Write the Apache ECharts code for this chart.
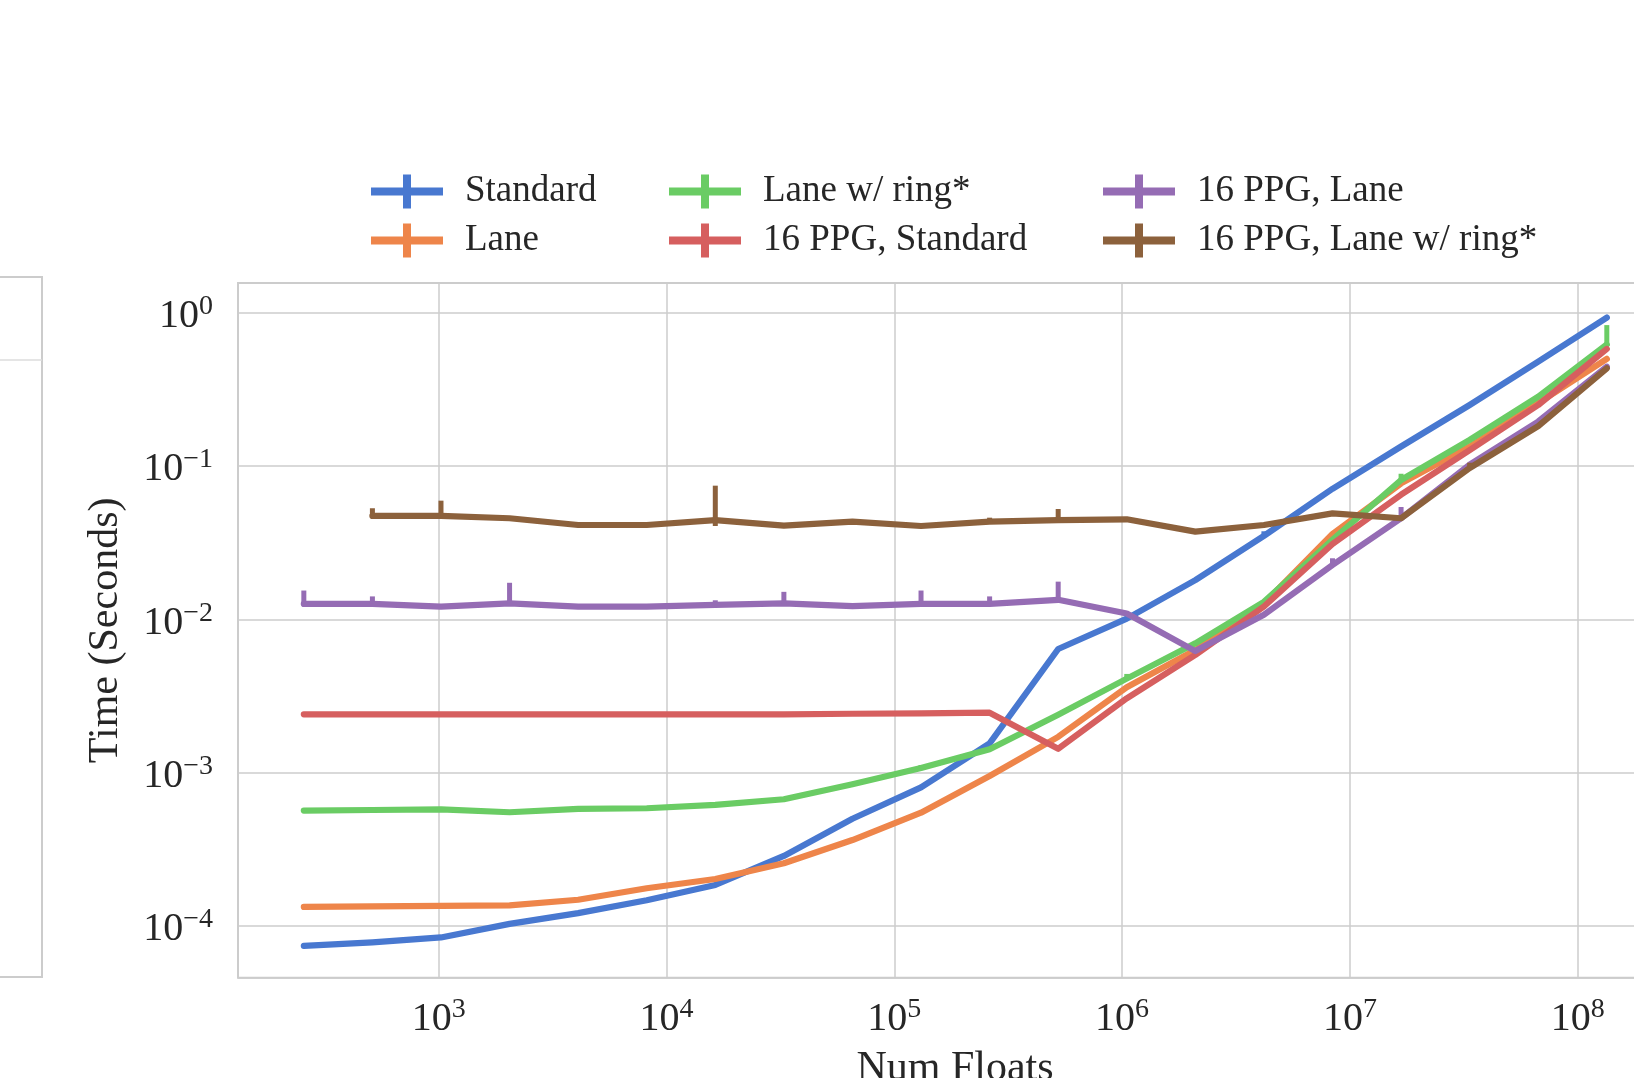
<!DOCTYPE html>
<html>
<head>
<meta charset="utf-8">
<script src="https://cdn.jsdelivr.net/npm/echarts@6/dist/echarts.min.js"></script>
<style>
html,body{margin:0;padding:0;background:#fff;overflow:hidden;}
#chart{width:1634px;height:1078px;}
</style>
</head>
<body>
<div id="chart"></div>
<script>
// ---- data (x = 2^8 ... 2^27) ----
const numFloats = [256, 512, 1024, 2048, 4096, 8192, 16384, 32768, 65536, 131072, 262144, 524288,
  1048576, 2097152, 4194304, 8388608, 16777216, 33554432, 67108864, 134217728];

const seriesNames = ['Standard', 'Lane', 'Lane w/ ring*', '16 PPG, Standard', '16 PPG, Lane', '16 PPG, Lane w/ ring*'];
const seriesColors = ['#4878d0', '#ee854a', '#6acc64', '#d65f5f', '#956cb4', '#8c613c'];

const standard = [7.4e-5, 7.8e-5, 8.4e-5, 1.03e-4, 1.21e-4, 1.47e-4, 1.85e-4, 2.86e-4, 5.0e-4, 8.0e-4,
  1.55e-3, 6.4e-3, 1.01e-2, 1.8e-2, 3.5e-2, 7.1e-2, 0.134, 0.25, 0.48, 0.93];
const lane = [1.33e-4, 1.34e-4, 1.35e-4, 1.36e-4, 1.48e-4, 1.76e-4, 2.02e-4, 2.56e-4, 3.63e-4, 5.47e-4,
  9.5e-4, 1.71e-3, 3.6e-3, 6.3e-3, 1.27e-2, 3.6e-2, 7.7e-2, 0.134, 0.257, 0.50];
const laneRing = [5.65e-4, 5.7e-4, 5.75e-4, 5.51e-4, 5.79e-4, 5.85e-4, 6.15e-4, 6.7e-4, 8.4e-4, 1.07e-3,
  1.42e-3, 2.38e-3, 4.1e-3, 6.97e-3, 1.3e-2, 3.3e-2, 8.1e-2, 0.148, 0.283, 0.62];
const ppgStandard = [2.40e-3, 2.40e-3, 2.40e-3, 2.40e-3, 2.40e-3, 2.40e-3, 2.40e-3, 2.40e-3, 2.42e-3, 2.43e-3,
  2.46e-3, 1.43e-3, 3.05e-3, 5.85e-3, 1.21e-2, 3.1e-2, 6.5e-2, 0.127, 0.25, 0.58];
const ppgLane = [1.26e-2, 1.26e-2, 1.21e-2, 1.27e-2, 1.21e-2, 1.21e-2, 1.24e-2, 1.27e-2, 1.22e-2, 1.26e-2,
  1.26e-2, 1.34e-2, 1.09e-2, 6.2e-3, 1.07e-2, 2.26e-2, 4.56e-2, 0.102, 0.195, 0.444];
const ppgLaneRing = [null, 4.72e-2, 4.72e-2, 4.56e-2, 4.12e-2, 4.12e-2, 4.44e-2, 4.08e-2, 4.33e-2, 4.06e-2,
  4.33e-2, 4.44e-2, 4.49e-2, 3.73e-2, 4.12e-2, 4.91e-2, 4.56e-2, 9.7e-2, 0.182, 0.434];

// error bar extents (null = not visible)
const standardErrHigh = [null, null, null, null, null, null, null, null, null, null,
  null, null, null, null, 3.75e-2, null, null, null, null, null];
const laneRingErrHigh = [null, null, null, null, null, null, null, null, null, 1.12e-3,
  null, null, 4.4e-3, null, null, null, 8.9e-2, null, null, 0.83];
const ppgLaneErrHigh = [1.54e-2, 1.41e-2, null, 1.73e-2, null, null, 1.33e-2, 1.51e-2, null, 1.54e-2,
  1.41e-2, 1.76e-2, null, null, null, 2.5e-2, 5.4e-2, null, null, null];
const ppgLaneRingErrHigh = [null, 5.3e-2, 5.94e-2, null, 4.3e-2, null, 7.44e-2, null, null, null,
  4.6e-2, 5.24e-2, null, null, null, null, null, 0.105, null, null];
const ppgLaneRingErrLow = [null, null, null, null, null, null, 4.06e-2, null, null, null,
  null, null, null, null, null, null, null, null, null, null];

const seriesValues = [standard, lane, laneRing, ppgStandard, ppgLane, ppgLaneRing];
const seriesErrHigh = [standardErrHigh, null, laneRingErrHigh, null, ppgLaneErrHigh, ppgLaneRingErrHigh];
const seriesErrLow = [null, null, null, null, null, ppgLaneRingErrLow];

// ---- styling ----
const FONT = 'Liberation Serif';
const TXT = '#262626';
const GRID = '#cccccc';

function sciLabel(v) {
  const e = Math.log10(v);
  const r = Math.round(e);
  if (Math.abs(e - r) > 1e-6) return '';
  const exp = r < 0 ? '\u2212' + (-r) : String(r);
  return '{b|10}{s|' + exp + '}';
}
const richLab = {
  b: { fontFamily: FONT, fontSize: 40, lineHeight: 40, padding: [8, 0, 0, 0], color: TXT },
  s: { fontFamily: FONT, fontSize: 28, lineHeight: 28, verticalAlign: 'top', color: TXT }
};

const handle = 'path://M0,13H72V21H0Z M32,0H40V34H32Z';

function legendCol(names, left) {
  return {
    data: names, left: left, top: 168, orient: 'vertical',
    itemWidth: 72, itemHeight: 34, itemGap: 12, icon: handle,
    itemStyle: { borderWidth: 0 },
    selectedMode: false,
    textStyle: { fontFamily: FONT, fontSize: 37, lineHeight: 34, color: TXT, padding: [0, 0, 0, 17] }
  };
}

const series = [];
seriesNames.forEach((name, i) => {
  series.push({
    name: name, type: 'line',
    data: numFloats.map((x, j) => [x, seriesValues[i][j]]),
    showSymbol: false, symbol: 'none', connectNulls: false,
    color: seriesColors[i],
    lineStyle: { width: 6.2, color: seriesColors[i], cap: 'round', join: 'round' },
    emphasis: { disabled: true },
    z: 2 + i * 2
  });
  const hi = seriesErrHigh[i], lo = seriesErrLow[i];
  if (hi || lo) {
    const errData = [];
    numFloats.forEach((x, j) => {
      const v = seriesValues[i][j];
      const h = hi && hi[j] != null ? hi[j] : null;
      const l = lo && lo[j] != null ? lo[j] : null;
      if (v == null || (h == null && l == null)) return;
      errData.push([x, l != null ? l : v, h != null ? h : v]);
    });
    series.push({
      name: name, type: 'custom',
      data: errData,
      encode: { x: 0, y: [1, 2] },
      z: 3 + i * 2,
      silent: true,
      renderItem: (params, api) => {
        const p1 = api.coord([api.value(0), api.value(1)]);
        const p2 = api.coord([api.value(0), api.value(2)]);
        return {
          type: 'line',
          shape: { x1: p1[0], y1: p1[1], x2: p2[0], y2: p2[1] },
          style: { stroke: seriesColors[i], lineWidth: 5 }
        };
      }
    });
  }
});

const chart = echarts.init(document.getElementById('chart'), null, { renderer: 'canvas' });
chart.setOption({
  animation: false,
  backgroundColor: '#ffffff',
  textStyle: { fontFamily: FONT, color: TXT },
  legend: [
    legendCol([seriesNames[0], seriesNames[1]], 366),
    legendCol([seriesNames[2], seriesNames[3]], 664),
    legendCol([seriesNames[4], seriesNames[5]], 1098)
  ],
  grid: {
    left: 238, right: -38, top: 283, bottom: 100.3,
    containLabel: false, outerBoundsMode: 'none',
    show: true, borderColor: GRID, borderWidth: 2, backgroundColor: 'transparent'
  },
  xAxis: {
    type: 'log', logBase: 10, min: 131.6, max: 2.594e8,
    name: 'Num Floats', nameLocation: 'middle', nameGap: 70,
    nameTextStyle: { fontFamily: FONT, fontSize: 42, color: TXT },
    axisLine: { show: false }, axisTick: { show: false },
    axisLabel: { margin: 18, formatter: sciLabel, rich: richLab, showMinLabel: false, showMaxLabel: false },
    splitLine: { show: true, lineStyle: { color: GRID, width: 1.5 } },
    minorTick: { show: false }, minorSplitLine: { show: false }
  },
  yAxis: {
    type: 'log', logBase: 10, min: 4.59e-5, max: 1.562,
    name: 'Time (Seconds)', nameLocation: 'middle', nameGap: 111,
    nameTextStyle: { fontFamily: FONT, fontSize: 42, color: TXT },
    axisLine: { show: false }, axisTick: { show: false },
    axisLabel: { margin: 25, formatter: sciLabel, rich: richLab, showMinLabel: false, showMaxLabel: false },
    splitLine: { show: true, lineStyle: { color: GRID, width: 1.5 } },
    minorTick: { show: false }, minorSplitLine: { show: false }
  },
  graphic: [
    { type: 'rect', shape: { x: -10, y: 277, width: 52, height: 700 },
      style: { fill: 'none', stroke: '#cccccc', lineWidth: 2 }, silent: true },
    { type: 'line', shape: { x1: 0, y1: 360, x2: 42, y2: 360 },
      style: { stroke: '#dddddd', lineWidth: 1.5 }, silent: true }
  ],
  series: series
});
</script>
</body>
</html>
